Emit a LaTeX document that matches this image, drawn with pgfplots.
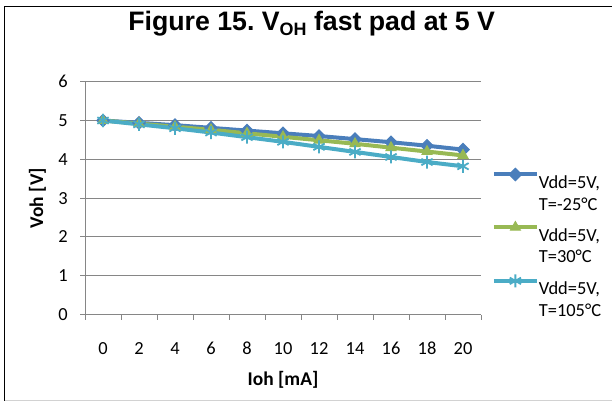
\documentclass[border=0pt]{standalone}
\usepackage{fontspec}
\setmainfont{Carlito}
\newfontfamily\arialfont{Liberation Sans}
\usepackage{pgfplots}
\pgfplotsset{compat=1.18}
\definecolor{c1}{HTML}{4A7EBB}
\definecolor{c2}{HTML}{98B954}
\definecolor{c3}{HTML}{4BACC6}
\definecolor{gridc}{HTML}{868686}
\newcommand{\twoline}[2]{\vtop{\hbox{#1}\hbox{#2}}}
\begin{document}
\frenchspacing
\begin{tikzpicture}
\useasboundingbox (0bp,0bp) rectangle (612bp,403bp);
\draw[black,line width=1.5bp] (4.5bp,2bp) -- (4.5bp,396.5bp) -- (612bp,396.5bp);
\draw[gray!35,line width=1bp] (4.5bp,2bp) -- (612bp,2bp);
\node[font=\arialfont\bfseries\fontsize{26.8}{30}\selectfont, anchor=base, inner sep=0] at (311.7bp,372.3bp) {Figure 15. V\raisebox{-4.5bp}{\fontsize{18}{20}\selectfont OH} fast pad at 5 V};
\begin{axis}[
  scale only axis, width=396bp, height=232.8bp,
  at={(85bp,88.5bp)}, anchor=south west,
  xmin=-0.5, xmax=10.5, ymin=0, ymax=6,
  axis lines=left, axis line style={gridc, line width=1bp, -},
  xtick={0,...,10}, xticklabels={0,2,4,6,8,10,12,14,16,18,20},
  major x tick style={draw=none},
  minor xtick={-0.5,0.5,...,10.5},
  ytick={0,...,6},
  tick align=outside,
  major tick length=5bp, minor tick length=5bp,
  tick style={gridc, line width=1bp},
  ymajorgrids, major grid style={gridc, line width=1bp},
  /pgf/number format/assume math mode=true,
  tick label style={font=\fontsize{18.5}{20}\selectfont, text=black, inner sep=0},
  xticklabel style={anchor=base, yshift=-34.5bp},
  yticklabel style={anchor=east, xshift=-12bp},
  xlabel={\bfseries Ioh [mA]},
  ylabel={\bfseries Voh [V]},
  label style={font=\fontsize{19.5}{22}\selectfont},
  xlabel style={at={(axis description cs:0.5,-0.281)}, anchor=center},
  ylabel style={at={(axis description cs:-0.12,0.5)}, anchor=center, rotate=0},
  legend style={at={(axis description cs:1.027,0.629)}, anchor=north west, draw=none, fill=none, inner sep=0,
    row sep=31.6bp, font=\fontsize{18.5}{21.7}\selectfont,
    nodes={inner sep=0},
    /tikz/every even column/.append style={column sep=1.5bp}},
  legend cell align=left,
  legend image code/.code={
    \draw[#1, mark=none] (0bp,8.3bp) -- (43bp,8.3bp);
    \path[#1] plot coordinates {(21.5bp,8.3bp)};
  },
]
\addplot[c1, line width=4bp, mark=square*, mark size=4.4bp, mark options={rotate=45, line width=1bp, fill=c1}]
 coordinates {(0,5.00) (1,4.94) (2,4.88) (3,4.81) (4,4.74) (5,4.67) (6,4.60) (7,4.52) (8,4.44) (9,4.35) (10,4.25)};
\addplot[c2, line width=4bp, mark=triangle*, mark size=5.8bp, mark options={line width=1bp, fill=c2}]
 coordinates {(0,5.00) (1,4.92) (2,4.84) (3,4.76) (4,4.67) (5,4.58) (6,4.49) (7,4.40) (8,4.30) (9,4.20) (10,4.10)};
\addplot[c3, line width=4bp, mark=asterisk, mark size=6.5bp, mark options={line width=1.8bp}]
 coordinates {(0,5.00) (1,4.90) (2,4.80) (3,4.69) (4,4.57) (5,4.45) (6,4.32) (7,4.19) (8,4.06) (9,3.93) (10,3.82)};
\legend{\twoline{Vdd=5V,}{T=-25°C},\twoline{Vdd=5V,}{T=30°C},\twoline{Vdd=5V,}{T=105°C}}
\end{axis}
\end{tikzpicture}
\end{document}
